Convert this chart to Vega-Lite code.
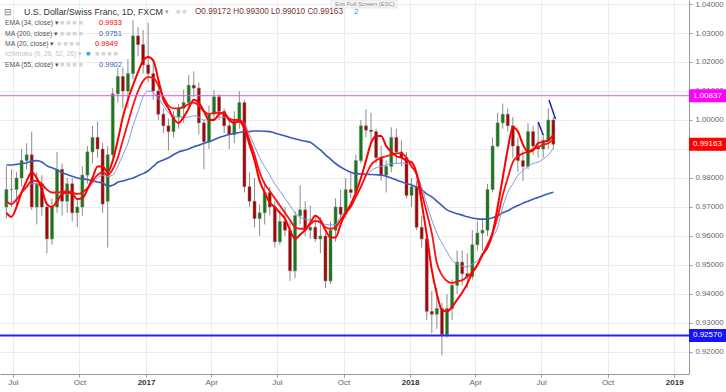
{
  "$schema": "https://vega.github.io/schema/vega-lite/v6.json",
  "width": 689,
  "height": 374,
  "autosize": {"type": "none"},
  "padding": {"left": 0, "top": 0, "right": 37, "bottom": 18},
  "background": "#ffffff",
  "config": {"view": {"stroke": null}, "font": "Liberation Sans"},
  "datasets": {
    "px": [
      {"d":"2016-06-22","o":0.970,"h":0.984,"l":0.966,"c":0.976,"m20":0.968,"e34":0.972,"e55":0.971,"m200":0.9845},
      {"d":"2016-06-29","o":0.976,"h":0.983,"l":0.970,"c":0.976,"m20":0.9666,"e34":0.971,"e55":0.9715,"m200":0.9845},
      {"d":"2016-07-06","o":0.976,"h":0.982,"l":0.970,"c":0.980,"m20":0.970,"e34":0.9725,"e55":0.973,"m200":0.9847},
      {"d":"2016-07-13","o":0.980,"h":0.990,"l":0.977,"c":0.986,"m20":0.975,"e34":0.975,"e55":0.975,"m200":0.985},
      {"d":"2016-07-20","o":0.986,"h":0.992,"l":0.983,"c":0.988,"m20":0.979,"e34":0.977,"e55":0.9765,"m200":0.9852},
      {"d":"2016-07-27","o":0.988,"h":0.996,"l":0.969,"c":0.970,"m20":0.982,"e34":0.979,"e55":0.978,"m200":0.9858},
      {"d":"2016-08-03","o":0.970,"h":0.982,"l":0.964,"c":0.978,"m20":0.980,"e34":0.979,"e55":0.978,"m200":0.986},
      {"d":"2016-08-10","o":0.978,"h":0.981,"l":0.967,"c":0.970,"m20":0.976,"e34":0.978,"e55":0.977,"m200":0.9855},
      {"d":"2016-08-17","o":0.970,"h":0.972,"l":0.954,"c":0.959,"m20":0.971,"e34":0.976,"e55":0.976,"m200":0.9842},
      {"d":"2016-08-24","o":0.959,"h":0.973,"l":0.957,"c":0.970,"m20":0.970,"e34":0.975,"e55":0.975,"m200":0.9835},
      {"d":"2016-08-31","o":0.970,"h":0.989,"l":0.968,"c":0.983,"m20":0.972,"e34":0.975,"e55":0.9748,"m200":0.9828},
      {"d":"2016-09-07","o":0.983,"h":0.985,"l":0.967,"c":0.972,"m20":0.9745,"e34":0.9752,"e55":0.9745,"m200":0.9818},
      {"d":"2016-09-14","o":0.972,"h":0.980,"l":0.968,"c":0.978,"m20":0.975,"e34":0.9755,"e55":0.9745,"m200":0.9812},
      {"d":"2016-09-21","o":0.978,"h":0.980,"l":0.965,"c":0.968,"m20":0.9745,"e34":0.975,"e55":0.9745,"m200":0.9806},
      {"d":"2016-09-28","o":0.968,"h":0.973,"l":0.963,"c":0.970,"m20":0.9728,"e34":0.9745,"e55":0.9745,"m200":0.980},
      {"d":"2016-10-05","o":0.970,"h":0.984,"l":0.967,"c":0.981,"m20":0.973,"e34":0.975,"e55":0.975,"m200":0.9797},
      {"d":"2016-10-12","o":0.981,"h":0.991,"l":0.978,"c":0.989,"m20":0.976,"e34":0.9765,"e55":0.976,"m200":0.9795},
      {"d":"2016-10-19","o":0.989,"h":0.998,"l":0.985,"c":0.994,"m20":0.980,"e34":0.979,"e55":0.978,"m200":0.979},
      {"d":"2016-10-26","o":0.994,"h":0.9995,"l":0.987,"c":0.990,"m20":0.984,"e34":0.981,"e55":0.980,"m200":0.9786},
      {"d":"2016-11-02","o":0.990,"h":0.992,"l":0.968,"c":0.971,"m20":0.984,"e34":0.982,"e55":0.981,"m200":0.9783},
      {"d":"2016-11-09","o":0.972,"h":0.991,"l":0.956,"c":0.988,"m20":0.982,"e34":0.981,"e55":0.9805,"m200":0.9772},
      {"d":"2016-11-16","o":0.988,"h":1.011,"l":0.987,"c":1.009,"m20":0.986,"e34":0.983,"e55":0.981,"m200":0.9775},
      {"d":"2016-11-23","o":1.009,"h":1.018,"l":1.006,"c":1.015,"m20":0.993,"e34":0.987,"e55":0.984,"m200":0.9785},
      {"d":"2016-11-30","o":1.015,"h":1.018,"l":1.004,"c":1.010,"m20":1.001,"e34":0.993,"e55":0.988,"m200":0.979},
      {"d":"2016-12-07","o":1.010,"h":1.021,"l":1.004,"c":1.016,"m20":1.007,"e34":0.999,"e55":0.992,"m200":0.9795},
      {"d":"2016-12-14","o":1.016,"h":1.0344,"l":1.014,"c":1.029,"m20":1.012,"e34":1.005,"e55":0.998,"m200":0.980},
      {"d":"2016-12-21","o":1.029,"h":1.032,"l":1.022,"c":1.026,"m20":1.0165,"e34":1.010,"e55":1.003,"m200":0.9808},
      {"d":"2016-12-28","o":1.026,"h":1.031,"l":1.016,"c":1.019,"m20":1.0205,"e34":1.0135,"e55":1.008,"m200":0.9815},
      {"d":"2017-01-04","o":1.019,"h":1.0335,"l":1.013,"c":1.016,"m20":1.0217,"e34":1.0148,"e55":1.010,"m200":0.9825},
      {"d":"2017-01-11","o":1.016,"h":1.021,"l":1.007,"c":1.010,"m20":1.0205,"e34":1.0145,"e55":1.0095,"m200":0.984},
      {"d":"2017-01-18","o":1.010,"h":1.012,"l":1.000,"c":1.002,"m20":1.014,"e34":1.012,"e55":1.0075,"m200":0.9855},
      {"d":"2017-01-25","o":1.002,"h":1.004,"l":0.9955,"c":0.998,"m20":1.007,"e34":1.008,"e55":1.005,"m200":0.9862},
      {"d":"2017-02-01","o":0.998,"h":1.0005,"l":0.9895,"c":0.996,"m20":1.004,"e34":1.005,"e55":1.0025,"m200":0.987},
      {"d":"2017-02-08","o":0.996,"h":1.003,"l":0.994,"c":1.001,"m20":1.0005,"e34":1.004,"e55":1.0015,"m200":0.988},
      {"d":"2017-02-15","o":1.001,"h":1.0055,"l":0.997,"c":1.004,"m20":0.999,"e34":1.004,"e55":1.001,"m200":0.989},
      {"d":"2017-02-22","o":1.004,"h":1.0105,"l":0.999,"c":1.006,"m20":1.001,"e34":1.0045,"e55":1.001,"m200":0.9895},
      {"d":"2017-03-01","o":1.006,"h":1.0155,"l":1.004,"c":1.012,"m20":1.004,"e34":1.0055,"e55":1.001,"m200":0.990},
      {"d":"2017-03-08","o":1.012,"h":1.0168,"l":1.008,"c":1.011,"m20":1.007,"e34":1.006,"e55":1.0015,"m200":0.9908},
      {"d":"2017-03-15","o":1.011,"h":1.013,"l":0.995,"c":0.999,"m20":1.006,"e34":1.005,"e55":1.001,"m200":0.9913},
      {"d":"2017-03-22","o":0.999,"h":1.000,"l":0.983,"c":0.9925,"m20":1.003,"e34":1.003,"e55":1.000,"m200":0.992},
      {"d":"2017-03-29","o":0.9925,"h":1.005,"l":0.990,"c":1.002,"m20":1.000,"e34":1.002,"e55":1.000,"m200":0.9925},
      {"d":"2017-04-05","o":1.002,"h":1.0103,"l":1.000,"c":1.008,"m20":1.000,"e34":1.0025,"e55":1.0005,"m200":0.9932},
      {"d":"2017-04-12","o":1.008,"h":1.009,"l":1.000,"c":1.003,"m20":1.002,"e34":1.0025,"e55":1.001,"m200":0.994},
      {"d":"2017-04-19","o":1.003,"h":1.004,"l":0.9955,"c":0.998,"m20":1.0025,"e34":1.002,"e55":1.001,"m200":0.9945},
      {"d":"2017-04-26","o":0.998,"h":1.000,"l":0.990,"c":0.995,"m20":1.000,"e34":1.0005,"e55":1.000,"m200":0.995},
      {"d":"2017-05-03","o":0.995,"h":1.003,"l":0.992,"c":1.000,"m20":0.999,"e34":1.000,"e55":1.000,"m200":0.9953},
      {"d":"2017-05-10","o":1.000,"h":1.0099,"l":0.997,"c":1.006,"m20":0.9995,"e34":1.000,"e55":1.000,"m200":0.9957},
      {"d":"2017-05-17","o":1.006,"h":1.007,"l":0.975,"c":0.977,"m20":0.997,"e34":0.998,"e55":0.999,"m200":0.996},
      {"d":"2017-05-24","o":0.977,"h":0.982,"l":0.970,"c":0.972,"m20":0.9915,"e34":0.993,"e55":0.995,"m200":0.996},
      {"d":"2017-05-31","o":0.972,"h":0.980,"l":0.963,"c":0.966,"m20":0.986,"e34":0.988,"e55":0.991,"m200":0.9962},
      {"d":"2017-06-07","o":0.966,"h":0.971,"l":0.960,"c":0.968,"m20":0.979,"e34":0.982,"e55":0.987,"m200":0.9962},
      {"d":"2017-06-14","o":0.968,"h":0.978,"l":0.964,"c":0.975,"m20":0.975,"e34":0.978,"e55":0.984,"m200":0.9961},
      {"d":"2017-06-21","o":0.975,"h":0.977,"l":0.967,"c":0.970,"m20":0.9715,"e34":0.9755,"e55":0.981,"m200":0.996},
      {"d":"2017-06-28","o":0.970,"h":0.972,"l":0.956,"c":0.958,"m20":0.970,"e34":0.973,"e55":0.978,"m200":0.9955},
      {"d":"2017-07-05","o":0.958,"h":0.969,"l":0.957,"c":0.965,"m20":0.968,"e34":0.9705,"e55":0.9755,"m200":0.995},
      {"d":"2017-07-12","o":0.965,"h":0.970,"l":0.960,"c":0.962,"m20":0.966,"e34":0.968,"e55":0.973,"m200":0.9945},
      {"d":"2017-07-19","o":0.962,"h":0.965,"l":0.9445,"c":0.948,"m20":0.962,"e34":0.9655,"e55":0.9705,"m200":0.994},
      {"d":"2017-07-26","o":0.948,"h":0.9685,"l":0.9455,"c":0.967,"m20":0.959,"e34":0.963,"e55":0.968,"m200":0.9935},
      {"d":"2017-08-02","o":0.967,"h":0.9775,"l":0.964,"c":0.969,"m20":0.9605,"e34":0.9625,"e55":0.9665,"m200":0.993},
      {"d":"2017-08-09","o":0.969,"h":0.972,"l":0.960,"c":0.962,"m20":0.962,"e34":0.9625,"e55":0.9658,"m200":0.9927},
      {"d":"2017-08-16","o":0.962,"h":0.9705,"l":0.959,"c":0.963,"m20":0.9645,"e34":0.964,"e55":0.9655,"m200":0.9923},
      {"d":"2017-08-23","o":0.963,"h":0.967,"l":0.958,"c":0.959,"m20":0.967,"e34":0.9652,"e55":0.965,"m200":0.991},
      {"d":"2017-08-30","o":0.959,"h":0.9665,"l":0.954,"c":0.960,"m20":0.9655,"e34":0.9648,"e55":0.9645,"m200":0.9897},
      {"d":"2017-09-06","o":0.960,"h":0.961,"l":0.942,"c":0.9445,"m20":0.962,"e34":0.963,"e55":0.964,"m200":0.988},
      {"d":"2017-09-13","o":0.9445,"h":0.965,"l":0.9435,"c":0.962,"m20":0.9595,"e34":0.9625,"e55":0.9638,"m200":0.9865},
      {"d":"2017-09-20","o":0.962,"h":0.973,"l":0.958,"c":0.970,"m20":0.9595,"e34":0.963,"e55":0.964,"m200":0.985},
      {"d":"2017-09-27","o":0.970,"h":0.976,"l":0.966,"c":0.9675,"m20":0.964,"e34":0.9655,"e55":0.9666,"m200":0.9838},
      {"d":"2017-10-04","o":0.9675,"h":0.980,"l":0.966,"c":0.976,"m20":0.968,"e34":0.968,"e55":0.9685,"m200":0.9828},
      {"d":"2017-10-11","o":0.976,"h":0.982,"l":0.973,"c":0.975,"m20":0.971,"e34":0.970,"e55":0.9705,"m200":0.982},
      {"d":"2017-10-18","o":0.975,"h":0.988,"l":0.973,"c":0.986,"m20":0.975,"e34":0.9735,"e55":0.9735,"m200":0.9815},
      {"d":"2017-10-25","o":0.986,"h":1.000,"l":0.985,"c":0.998,"m20":0.980,"e34":0.977,"e55":0.9765,"m200":0.9814},
      {"d":"2017-11-01","o":0.998,"h":1.0037,"l":0.994,"c":0.9965,"m20":0.986,"e34":0.981,"e55":0.9805,"m200":0.9813},
      {"d":"2017-11-08","o":0.9965,"h":1.0025,"l":0.992,"c":0.996,"m20":0.992,"e34":0.9845,"e55":0.9825,"m200":0.9812},
      {"d":"2017-11-15","o":0.996,"h":0.997,"l":0.985,"c":0.987,"m20":0.9945,"e34":0.986,"e55":0.9835,"m200":0.9811},
      {"d":"2017-11-22","o":0.987,"h":0.991,"l":0.979,"c":0.981,"m20":0.9945,"e34":0.987,"e55":0.984,"m200":0.981},
      {"d":"2017-11-29","o":0.981,"h":0.986,"l":0.975,"c":0.984,"m20":0.991,"e34":0.9875,"e55":0.9845,"m200":0.9806},
      {"d":"2017-12-06","o":0.984,"h":0.9975,"l":0.982,"c":0.994,"m20":0.989,"e34":0.988,"e55":0.985,"m200":0.980},
      {"d":"2017-12-13","o":0.994,"h":0.997,"l":0.985,"c":0.989,"m20":0.9875,"e34":0.9885,"e55":0.985,"m200":0.9793},
      {"d":"2017-12-20","o":0.989,"h":0.993,"l":0.984,"c":0.987,"m20":0.987,"e34":0.9886,"e55":0.9852,"m200":0.9787},
      {"d":"2017-12-27","o":0.987,"h":0.989,"l":0.973,"c":0.974,"m20":0.986,"e34":0.987,"e55":0.985,"m200":0.978},
      {"d":"2018-01-03","o":0.974,"h":0.980,"l":0.970,"c":0.977,"m20":0.9855,"e34":0.984,"e55":0.984,"m200":0.9776},
      {"d":"2018-01-10","o":0.977,"h":0.979,"l":0.962,"c":0.963,"m20":0.9815,"e34":0.9815,"e55":0.981,"m200":0.9768},
      {"d":"2018-01-17","o":0.963,"h":0.967,"l":0.956,"c":0.959,"m20":0.9715,"e34":0.975,"e55":0.977,"m200":0.976},
      {"d":"2018-01-24","o":0.959,"h":0.960,"l":0.931,"c":0.934,"m20":0.9605,"e34":0.968,"e55":0.971,"m200":0.9745},
      {"d":"2018-01-31","o":0.934,"h":0.941,"l":0.9265,"c":0.933,"m20":0.9483,"e34":0.961,"e55":0.9655,"m200":0.9735},
      {"d":"2018-02-07","o":0.933,"h":0.942,"l":0.928,"c":0.935,"m20":0.940,"e34":0.9507,"e55":0.961,"m200":0.972},
      {"d":"2018-02-14","o":0.935,"h":0.937,"l":0.9188,"c":0.926,"m20":0.9345,"e34":0.9465,"e55":0.9576,"m200":0.9705},
      {"d":"2018-02-21","o":0.926,"h":0.940,"l":0.925,"c":0.935,"m20":0.934,"e34":0.9445,"e55":0.9545,"m200":0.969},
      {"d":"2018-02-28","o":0.935,"h":0.945,"l":0.931,"c":0.943,"m20":0.9355,"e34":0.9438,"e55":0.9517,"m200":0.9683},
      {"d":"2018-03-07","o":0.943,"h":0.955,"l":0.940,"c":0.951,"m20":0.938,"e34":0.9443,"e55":0.9503,"m200":0.9677},
      {"d":"2018-03-14","o":0.951,"h":0.955,"l":0.943,"c":0.947,"m20":0.9405,"e34":0.9448,"e55":0.9496,"m200":0.9672},
      {"d":"2018-03-21","o":0.947,"h":0.954,"l":0.942,"c":0.946,"m20":0.9435,"e34":0.946,"e55":0.9493,"m200":0.9666},
      {"d":"2018-03-28","o":0.946,"h":0.962,"l":0.945,"c":0.957,"m20":0.9475,"e34":0.9475,"e55":0.9503,"m200":0.9662},
      {"d":"2018-04-04","o":0.957,"h":0.965,"l":0.955,"c":0.961,"m20":0.950,"e34":0.950,"e55":0.9515,"m200":0.9659},
      {"d":"2018-04-11","o":0.961,"h":0.966,"l":0.955,"c":0.962,"m20":0.9535,"e34":0.9535,"e55":0.954,"m200":0.9658},
      {"d":"2018-04-18","o":0.962,"h":0.978,"l":0.960,"c":0.976,"m20":0.956,"e34":0.957,"e55":0.956,"m200":0.9659},
      {"d":"2018-04-25","o":0.976,"h":0.994,"l":0.975,"c":0.991,"m20":0.961,"e34":0.961,"e55":0.9595,"m200":0.9663},
      {"d":"2018-05-02","o":0.991,"h":1.0025,"l":0.9905,"c":0.999,"m20":0.970,"e34":0.9666,"e55":0.963,"m200":0.967},
      {"d":"2018-05-09","o":0.999,"h":1.0057,"l":0.997,"c":1.002,"m20":0.980,"e34":0.974,"e55":0.970,"m200":0.968},
      {"d":"2018-05-16","o":1.002,"h":1.004,"l":0.996,"c":0.998,"m20":0.990,"e34":0.980,"e55":0.975,"m200":0.9687},
      {"d":"2018-05-23","o":0.998,"h":1.001,"l":0.987,"c":0.991,"m20":0.9975,"e34":0.9855,"e55":0.978,"m200":0.9697},
      {"d":"2018-05-30","o":0.991,"h":0.994,"l":0.982,"c":0.986,"m20":0.996,"e34":0.9875,"e55":0.981,"m200":0.9705},
      {"d":"2018-06-06","o":0.986,"h":0.9895,"l":0.979,"c":0.984,"m20":0.9915,"e34":0.9885,"e55":0.9825,"m200":0.9713},
      {"d":"2018-06-13","o":0.984,"h":0.999,"l":0.983,"c":0.996,"m20":0.989,"e34":0.989,"e55":0.984,"m200":0.972},
      {"d":"2018-06-20","o":0.996,"h":0.998,"l":0.988,"c":0.991,"m20":0.9895,"e34":0.990,"e55":0.985,"m200":0.9727},
      {"d":"2018-06-27","o":0.991,"h":0.999,"l":0.987,"c":0.990,"m20":0.992,"e34":0.9907,"e55":0.9855,"m200":0.9733},
      {"d":"2018-07-04","o":0.990,"h":0.995,"l":0.987,"c":0.993,"m20":0.9925,"e34":0.9915,"e55":0.9865,"m200":0.974},
      {"d":"2018-07-11","o":0.993,"h":1.004,"l":0.990,"c":1.000,"m20":0.993,"e34":0.992,"e55":0.988,"m200":0.9746},
      {"d":"2018-07-18","o":1.000,"h":1.001,"l":0.990,"c":0.99163,"m20":0.9949,"e34":0.9933,"e55":0.9902,"m200":0.9751}
    ],
    "lv": [
      {"p": 1.00837, "t": "1.00837", "k": "m"},
      {"p": 0.99163, "t": "0.99163", "k": "r"},
      {"p": 0.9257, "t": "0.92570", "k": "b"}
    ],
    "tr": [
      {"d1": "2018-06-27", "p1": 0.9993, "d2": "2018-07-04", "p2": 0.9948},
      {"d1": "2018-07-12", "p1": 1.0069, "d2": "2018-07-21", "p2": 1.0003}
    ]
  },
  "layer": [
    {
      "data": {"name": "px"},
      "mark": {"type": "rule", "color": "#8c8c8c", "strokeWidth": 1},
      "encoding": {
        "x": {"field": "d", "type": "temporal", "title": null,
          "scale": {"type": "utc", "domain": [{"year": 2016, "month": 6, "date": 20, "hours": 2, "utc": true}, {"year": 2019, "month": 1, "date": 14, "hours": 14, "utc": true}]},
          "axis": {
            "values": [
              {"year": 2016, "month": 7, "date": 1, "utc": true},
              {"year": 2016, "month": 10, "date": 1, "utc": true},
              {"year": 2017, "month": 1, "date": 1, "utc": true},
              {"year": 2017, "month": 4, "date": 1, "utc": true},
              {"year": 2017, "month": 7, "date": 1, "utc": true},
              {"year": 2017, "month": 10, "date": 1, "utc": true},
              {"year": 2018, "month": 1, "date": 1, "utc": true},
              {"year": 2018, "month": 4, "date": 1, "utc": true},
              {"year": 2018, "month": 7, "date": 1, "utc": true},
              {"year": 2018, "month": 10, "date": 1, "utc": true},
              {"year": 2019, "month": 1, "date": 1, "utc": true}
            ],
            "labelExpr": "utcFormat(datum.value, utcmonth(datum.value) == 0 ? '%Y' : '%b')",
            "labelFontWeight": {"condition": {"test": "utcmonth(datum.value) == 0", "value": "bold"}, "value": "normal"},
            "labelColor": {"condition": {"test": "utcmonth(datum.value) == 0", "value": "#333333"}, "value": "#666666"},
            "labelFontSize": 8, "labelFont": "Liberation Sans", "labelPadding": 1,
            "labelFlush": false, "labelOverlap": false,
            "tickSize": 3, "tickColor": "#9a9a9a", "domainColor": "#9a9a9a",
            "grid": true, "gridColor": "#ececec", "title": null
          }
        },
        "y": {"field": "l", "type": "quantitative", "title": null,
          "scale": {"domain": [0.91241, 1.04138], "zero": false, "nice": false},
          "axis": {
            "orient": "right",
            "values": [0.92, 0.93, 0.94, 0.95, 0.96, 0.97, 0.98, 0.99, 1.0, 1.01, 1.02, 1.03, 1.04],
            "tickCount": 13,
            "format": ".5f", "labelFontSize": 7.8, "labelFont": "Liberation Sans", "labelColor": "#666666",
            "labelOverlap": false, "labelBound": false, "labelSeparation": 0,
            "labelPadding": 3, "tickSize": 3, "tickColor": "#9a9a9a", "domainColor": "#9a9a9a",
            "grid": true, "gridColor": "#ececec", "title": null
          }
        },
        "y2": {"field": "h"}
      }
    },
    {
      "data": {"name": "px"},
      "mark": {"type": "bar", "width": 3, "stroke": "#7a7a7a", "strokeWidth": 0.5},
      "encoding": {
        "x": {"field": "d", "type": "temporal", "title": null},
        "y": {"field": "o", "type": "quantitative", "title": null},
        "y2": {"field": "c"},
        "fill": {"condition": {"test": "datum.c >= datum.o", "value": "#137a13"}, "value": "#a80000"}
      }
    },
    {
      "data": {"name": "px"},
      "mark": {"type": "line", "color": "#3a5cb8", "strokeWidth": 1.6, "interpolate": "monotone"},
      "encoding": {
        "x": {"field": "d", "type": "temporal", "title": null},
        "y": {"field": "m200", "type": "quantitative", "title": null}
      }
    },
    {
      "data": {"name": "px"},
      "mark": {"type": "line", "color": "#7f9ae0", "strokeWidth": 1, "interpolate": "monotone"},
      "encoding": {
        "x": {"field": "d", "type": "temporal", "title": null},
        "y": {"field": "e55", "type": "quantitative", "title": null}
      }
    },
    {
      "data": {"name": "px"},
      "mark": {"type": "line", "color": "#ff1010", "strokeWidth": 1.8, "interpolate": "monotone"},
      "encoding": {
        "x": {"field": "d", "type": "temporal", "title": null},
        "y": {"field": "e34", "type": "quantitative", "title": null}
      }
    },
    {
      "data": {"name": "px"},
      "mark": {"type": "line", "color": "#ff0000", "strokeWidth": 2, "interpolate": "monotone"},
      "encoding": {
        "x": {"field": "d", "type": "temporal", "title": null},
        "y": {"field": "m20", "type": "quantitative", "title": null}
      }
    },
    {
      "data": {"name": "lv"},
      "transform": [{"filter": "datum.k == 'm'"}],
      "mark": {"type": "rule", "color": "#e055e0", "strokeWidth": 1},
      "encoding": {
        "y": {"field": "p", "type": "quantitative", "title": null}
      }
    },
    {
      "data": {"name": "lv"},
      "transform": [{"filter": "datum.k == 'b'"}],
      "mark": {"type": "rule", "color": "#2424f0", "strokeWidth": 2},
      "encoding": {
        "y": {"field": "p", "type": "quantitative", "title": null}
      }
    },
    {
      "data": {"name": "tr"},
      "mark": {"type": "rule", "color": "#1c1cb8", "strokeWidth": 1.5},
      "encoding": {
        "x": {"field": "d1", "type": "temporal", "title": null},
        "x2": {"field": "d2"},
        "y": {"field": "p1", "type": "quantitative", "title": null},
        "y2": {"field": "p2"}
      }
    },
    {
      "data": {"name": "lv"},
      "mark": {"type": "rule", "strokeWidth": 13, "strokeCap": "butt"},
      "encoding": {
        "y": {"field": "p", "type": "quantitative", "title": null},
        "x": {"value": "width"},
        "x2": {"value": {"expr": "width + 37"}},
        "color": {"field": "k", "type": "nominal", "legend": null,
          "scale": {"domain": ["m", "r", "b"], "range": ["#ff00ff", "#ff0000", "#1414ff"]}}
      }
    },
    {
      "data": {"name": "lv"},
      "mark": {"type": "text", "align": "left", "baseline": "middle", "fontSize": 8, "font": "Liberation Sans", "color": "#ffffff"},
      "encoding": {
        "y": {"field": "p", "type": "quantitative", "title": null},
        "x": {"value": {"expr": "width + 4"}},
        "text": {"field": "t"}
      }
    },
    {
      "data": {"values": [{}]},
      "mark": {"type": "rect", "x": 331, "x2": 397, "y": 0, "y2": 8, "fill": "#f5f5f5", "stroke": "#d6d6d6", "strokeWidth": 0.5}
    },
    {
      "data": {"values": [{}]},
      "mark": {"type": "text", "text": "Exit Full Screen (ESC)", "x": 335, "y": 4, "align": "left", "baseline": "middle", "fontSize": 6, "color": "#8a8a8a"}
    },
    {
      "data": {"values": [{}]},
      "mark": {"type": "text", "text": "⊟", "x": 4, "y": 12, "align": "left", "baseline": "middle", "fontSize": 9, "color": "#777777"}
    },
    {
      "data": {"values": [{}]},
      "mark": {"type": "text", "text": "U.S. Dollar/Swiss Franc, 1D, FXCM", "x": 24, "y": 12, "align": "left", "baseline": "middle", "fontSize": 8.8, "color": "#333333"}
    },
    {
      "data": {"values": [{}]},
      "mark": {"type": "text", "text": "▾", "x": 165, "y": 12, "align": "left", "baseline": "middle", "fontSize": 7, "color": "#999999"}
    },
    {
      "data": {"values": [{}]},
      "mark": {"type": "text", "text": "■ ■", "x": 176, "y": 12, "align": "left", "baseline": "middle", "fontSize": 7, "color": "#d4d4d4"}
    },
    {
      "data": {"values": [{}]},
      "mark": {"type": "text", "text": "O0.99172 H0.99300 L0.99010 C0.99163", "x": 195, "y": 12, "align": "left", "baseline": "middle", "fontSize": 8.2, "color": "#7a3434"}
    },
    {
      "data": {"values": [{}]},
      "mark": {"type": "text", "text": "2", "x": 354, "y": 12, "align": "left", "baseline": "middle", "fontSize": 8, "color": "#2196f3"}
    },
    {
      "data": {"values": [{}]},
      "mark": {"type": "text", "text": "EMA (34, close) ▾", "x": 5, "y": 23, "align": "left", "baseline": "middle", "fontSize": 6.8, "color": "#555555"}
    },
    {
      "data": {"values": [{}]},
      "mark": {"type": "text", "text": "■ ■ ■ ■", "x": 60, "y": 23, "align": "left", "baseline": "middle", "fontSize": 7, "color": "#d4d4d4"}
    },
    {
      "data": {"values": [{}]},
      "mark": {"type": "text", "text": "0.9933", "x": 99, "y": 23, "align": "left", "baseline": "middle", "fontSize": 7.5, "color": "#ff0000"}
    },
    {
      "data": {"values": [{}]},
      "mark": {"type": "text", "text": "MA (200, close) ▾", "x": 5, "y": 34, "align": "left", "baseline": "middle", "fontSize": 6.8, "color": "#555555"}
    },
    {
      "data": {"values": [{}]},
      "mark": {"type": "text", "text": "■ ■ ■ ■", "x": 60, "y": 34, "align": "left", "baseline": "middle", "fontSize": 7, "color": "#d4d4d4"}
    },
    {
      "data": {"values": [{}]},
      "mark": {"type": "text", "text": "0.9751", "x": 99, "y": 34, "align": "left", "baseline": "middle", "fontSize": 7.5, "color": "#3a5cb8"}
    },
    {
      "data": {"values": [{}]},
      "mark": {"type": "text", "text": "MA (20, close) ▾", "x": 5, "y": 44, "align": "left", "baseline": "middle", "fontSize": 6.8, "color": "#555555"}
    },
    {
      "data": {"values": [{}]},
      "mark": {"type": "text", "text": "■ ■ ■ ■", "x": 57, "y": 44, "align": "left", "baseline": "middle", "fontSize": 7, "color": "#d4d4d4"}
    },
    {
      "data": {"values": [{}]},
      "mark": {"type": "text", "text": "0.9949", "x": 95, "y": 44, "align": "left", "baseline": "middle", "fontSize": 7.5, "color": "#ff0000"}
    },
    {
      "data": {"values": [{}]},
      "mark": {"type": "text", "text": "Ichimoku (9, 26, 52, 26) ▾", "x": 5, "y": 54, "align": "left", "baseline": "middle", "fontSize": 6.8, "color": "#c4c4c4"}
    },
    {
      "data": {"values": [{}]},
      "mark": {"type": "text", "text": "■", "x": 86, "y": 54, "align": "left", "baseline": "middle", "fontSize": 7, "color": "#29a8e8"}
    },
    {
      "data": {"values": [{}]},
      "mark": {"type": "text", "text": "■ ■ ■ ■", "x": 95, "y": 54, "align": "left", "baseline": "middle", "fontSize": 7, "color": "#d4d4d4"}
    },
    {
      "data": {"values": [{}]},
      "mark": {"type": "text", "text": "EMA (55, close) ▾", "x": 5, "y": 65, "align": "left", "baseline": "middle", "fontSize": 6.8, "color": "#555555"}
    },
    {
      "data": {"values": [{}]},
      "mark": {"type": "text", "text": "■ ■ ■ ■", "x": 60, "y": 65, "align": "left", "baseline": "middle", "fontSize": 7, "color": "#d4d4d4"}
    },
    {
      "data": {"values": [{}]},
      "mark": {"type": "text", "text": "0.9902", "x": 99, "y": 65, "align": "left", "baseline": "middle", "fontSize": 7.5, "color": "#3a5cb8"}
    }
  ]
}
